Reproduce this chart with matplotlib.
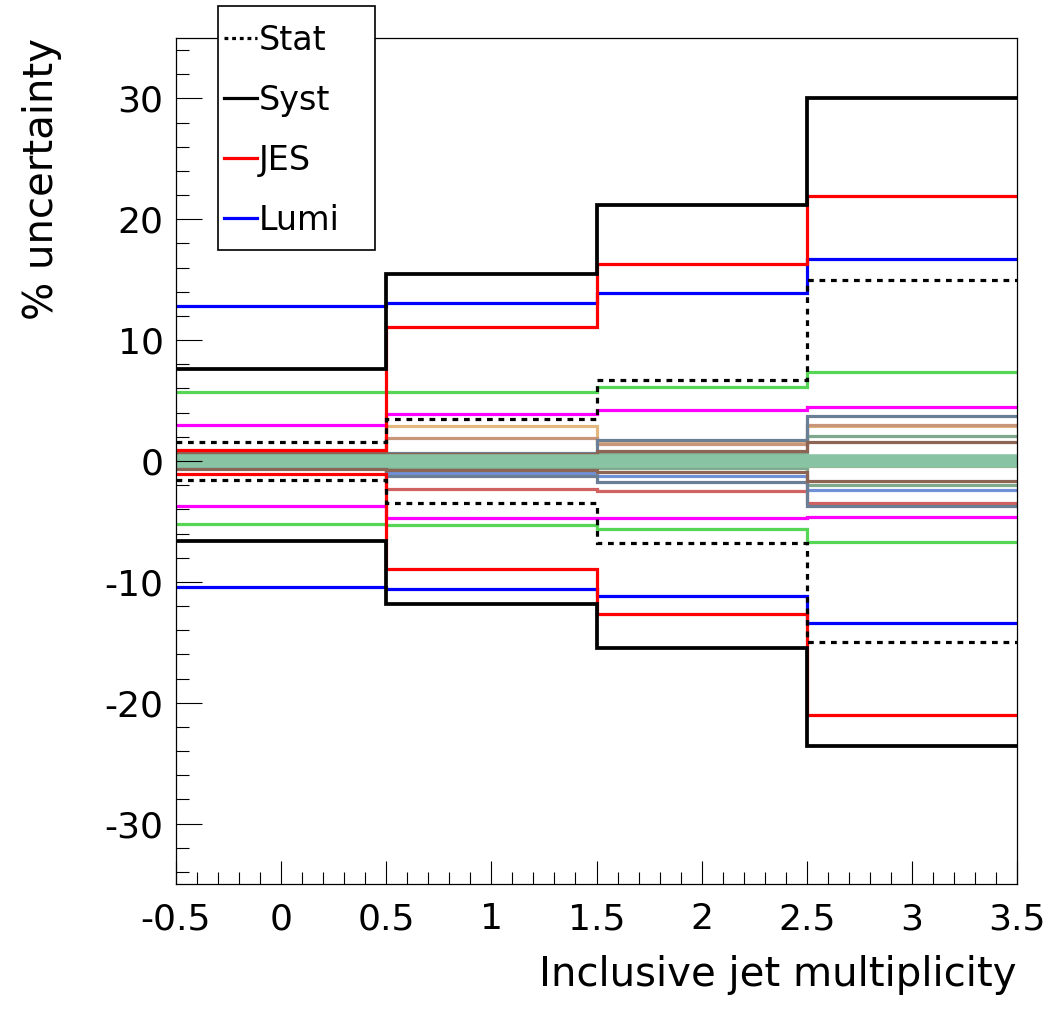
import numpy as np
import matplotlib
matplotlib.use("Agg")
import matplotlib.pyplot as plt
from matplotlib.ticker import MultipleLocator, FuncFormatter
from matplotlib.lines import Line2D
from matplotlib.patches import Rectangle

plt.rcParams['font.family'] = 'DejaVu Sans'
plt.rcParams['axes.unicode_minus'] = False

# bin edges of the jet multiplicity histogram
edges = [-0.5, 0.5, 1.5, 2.5, 3.5]

# main uncertainties (% up / down per bin)
stat_up = [1.6, 3.5, 6.7, 15.0]
stat_dn = [-1.6, -3.5, -6.8, -15.0]
syst_up = [7.6, 15.5, 21.2, 30.0]
syst_dn = [-6.6, -11.8, -15.5, -23.6]
jes_up = [0.9, 11.1, 16.3, 21.9]
jes_dn = [-1.1, -8.9, -12.7, -21.0]
lumi_up = [12.8, 13.1, 13.9, 16.7]
lumi_dn = [-10.4, -10.6, -11.2, -13.4]
green_up = [5.7, 5.7, 6.1, 7.4]
green_dn = [-5.2, -5.3, -5.65, -6.7]
magenta_up = [3.0, 3.9, 4.2, 4.5]
magenta_dn = [-3.7, -4.7, -4.7, -4.6]

# smaller sources (up, down)
tan_up = [0.5, 2.9, 1.5, 2.9]
tan_dn = [-0.3, -0.3, -0.3, -0.3]
rosy_up = [0.4, 1.9, 1.4, 3.0]
rosy_dn = [-0.4, -0.4, -0.5, -0.4]
steel_up = [0.5, 0.7, 1.75, 3.7]
steel_dn = [-0.5, -1.25, -1.75, -3.75]
brown_up = [0.65, 0.6, 0.8, 1.6]
brown_dn = [-0.7, -0.75, -0.9, -1.65]
sage_up = [0.3, 0.5, 0.6, 2.1]
sage_dn = [-0.3, -0.5, -0.6, -2.0]
ltblue_up = [0.2, 0.3, 0.3, 0.3]
ltblue_dn = [-0.4, -1.0, -1.2, -2.4]
salmon_up = [0.2, 0.2, 0.2, 0.2]
salmon_dn = [-0.6, -2.3, -2.5, -3.5]
band_up = [0.3, 0.3, 0.3, 0.3]
band_dn = [-0.3, -0.3, -0.3, -0.3]

fig = plt.figure(figsize=(10.53, 10.09), dpi=100)
ax = fig.add_axes([176/1053, 1-884/1009, 841/1053, 846/1009])

lw = 2.3
minor = [(tan_up, tan_dn, '#e2b880'), (rosy_up, rosy_dn, '#c8967a'),
         (sage_up, sage_dn, '#7fa98c'), (ltblue_up, ltblue_dn, '#7090d8'),
         (salmon_up, salmon_dn, '#d06262'), (steel_up, steel_dn, '#6a7f96'),
         (brown_up, brown_dn, '#8c6454')]
for up, dn, c in minor:
    ax.stairs(up, edges, color=c, lw=lw, baseline=None)
    ax.stairs(dn, edges, color=c, lw=lw, baseline=None)
ax.stairs(band_up, edges, color='#88c4a4', lw=4, baseline=None)
ax.stairs(band_dn, edges, color='#88c4a4', lw=4, baseline=None)
ax.stairs([0, 0, 0, 0], edges, color='#88c4a4', lw=4, baseline=None)

ax.stairs(green_up, edges, color='#55d655', lw=lw, baseline=None)
ax.stairs(green_dn, edges, color='#55d655', lw=lw, baseline=None)
ax.stairs(magenta_up, edges, color='#ff00ff', lw=lw, baseline=None)
ax.stairs(magenta_dn, edges, color='#ff00ff', lw=lw, baseline=None)
ax.stairs(lumi_up, edges, color='#0000ff', lw=lw, baseline=None)
ax.stairs(lumi_dn, edges, color='#0000ff', lw=lw, baseline=None)
ax.stairs(jes_up, edges, color='#ff0000', lw=lw, baseline=None)
ax.stairs(jes_dn, edges, color='#ff0000', lw=lw, baseline=None)
ax.stairs(stat_up, edges, color='black', lw=lw, ls=(0, (1.8, 1.8)), baseline=None)
ax.stairs(stat_dn, edges, color='black', lw=lw, ls=(0, (1.8, 1.8)), baseline=None)
ax.stairs(syst_up, edges, color='black', lw=2.7, baseline=None)
ax.stairs(syst_dn, edges, color='black', lw=2.7, baseline=None)

ax.set_xlim(-0.5, 3.5)
ax.set_ylim(-35, 35)
ax.xaxis.set_major_locator(MultipleLocator(0.5))
ax.xaxis.set_minor_locator(MultipleLocator(0.1))
ax.yaxis.set_major_locator(MultipleLocator(10))
ax.yaxis.set_minor_locator(MultipleLocator(2))
ax.xaxis.set_major_formatter(FuncFormatter(lambda v, p: '%g' % v))
ax.yaxis.set_major_formatter(FuncFormatter(lambda v, p: '%g' % v))
ax.tick_params(axis='x', which='major', direction='in', length=16.5, width=0.8, labelsize=26, pad=13, top=False)
ax.tick_params(axis='x', which='minor', direction='in', length=8.6, width=0.8, top=False)
ax.tick_params(axis='y', which='major', direction='in', length=18.7, width=0.8, labelsize=26, pad=9, right=False)
ax.tick_params(axis='y', which='minor', direction='in', length=9.4, width=0.8, right=False)
for s in ax.spines.values():
    s.set_linewidth(0.9)

fig.text(1017/1053, 1-975/1009, 'Inclusive jet multiplicity', ha='right', va='center', fontsize=29)
fig.text(42/1053, 1-38/1009, '% uncertainty', ha='center', va='top', rotation=90, fontsize=29)

# legend box drawn by hand so the entries can sit close to the left edge
fig.patches.append(Rectangle((218/1053, 1-250/1009), 157/1053, 244/1009,
                             transform=fig.transFigure, facecolor='white',
                             edgecolor='black', lw=1.2, zorder=3))
labels = ['Stat', 'Syst', 'JES', 'Lumi']
handles = [Line2D([], [], color='black', lw=lw, ls=(0, (1.2, 1.2))),
           Line2D([], [], color='black', lw=lw),
           Line2D([], [], color='#ff0000', lw=lw),
           Line2D([], [], color='#0000ff', lw=lw)]
leg = fig.legend(handles, labels, loc='upper left',
                 bbox_to_anchor=(208/1053, 1-8/1009),
                 bbox_transform=fig.transFigure,
                 fontsize=24, handlelength=1.0, handletextpad=0.05,
                 borderpad=0.47, labelspacing=0.81, borderaxespad=0,
                 frameon=False)
leg.set_zorder(4)

fig.savefig('out.png', dpi=100)
